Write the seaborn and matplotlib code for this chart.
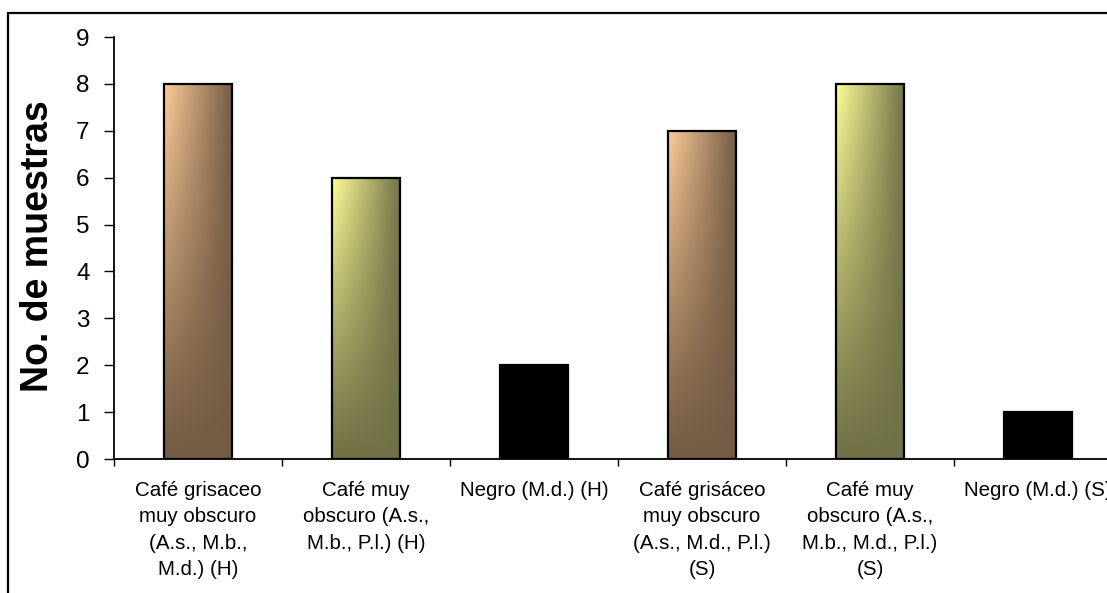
import numpy as np
import pandas as pd
import matplotlib
matplotlib.use("Agg")
import matplotlib.pyplot as plt
from matplotlib.colors import to_rgb
from matplotlib.patches import Rectangle
import seaborn as sns

# Soil colour classes and number of samples in each
categories = [
    "Café grisaceo\nmuy obscuro\n(A.s., M.b.,\nM.d.) (H)",
    "Café muy\nobscuro (A.s.,\nM.b., P.l.) (H)",
    "Negro (M.d.) (H)",
    "Café grisáceo\nmuy obscuro\n(A.s., M.d., P.l.)\n(S)",
    "Café muy\nobscuro (A.s.,\nM.b., M.d., P.l.)\n(S)",
    "Negro (M.d.) (S)",
]
muestras = [8, 6, 2, 7, 8, 1]
# fill style per class: light/dark ends of the gradient (None = solid black)
fills = [
    ("#FFCC99", "#735B44"),
    ("#FFFF99", "#717147"),
    None,
    ("#FFCC99", "#735B44"),
    ("#FFFF99", "#717147"),
    None,
]
y_ticks = list(range(0, 10))

sns.set_theme(style="white")
plt.rcParams["font.family"] = ["Liberation Sans", "DejaVu Sans"]
plt.rcParams["text.color"] = "black"
plt.rcParams["axes.labelcolor"] = "black"
plt.rcParams["xtick.color"] = "black"
plt.rcParams["ytick.color"] = "black"

W, H = 1107, 593
fig = plt.figure(figsize=(W / 100, H / 100), dpi=100)
ax = fig.add_axes([114 / W, (H - 459) / H, (1122 - 114) / W, (459 - 37) / H])

df = pd.DataFrame({"cat": categories, "n": muestras})
sns.barplot(data=df, x="cat", y="n", order=categories, width=0.41,
            color="black", edgecolor="black", linewidth=1.6, ax=ax,
            saturation=1, zorder=3)

ax.set_xlim(-0.5, len(categories) - 0.5)
ax.set_ylim(0, 9)

# gradient fills clipped to each bar
nx, ny = 160, 200
gx = np.linspace(0, 1, nx)[None, :]
gy = np.linspace(0, 1, ny)[:, None]
t = 1 - (1 - gx) * (1 - gy) ** 1.1
t = np.clip(t, 0, 1)
for patch, fill in zip(ax.patches, fills):
    if fill is None:
        continue
    c0 = np.array(to_rgb(fill[0]))
    c1 = np.array(to_rgb(fill[1]))
    img = c0[None, None, :] * (1 - t[..., None]) + c1[None, None, :] * t[..., None]
    x0, y0 = patch.get_x(), patch.get_y()
    w, h = patch.get_width(), patch.get_height()
    ax.imshow(img, extent=(x0, x0 + w, y0, y0 + h), origin="upper",
              aspect="auto", zorder=2, interpolation="bilinear")
    patch.set_facecolor("none")

ax.set_xlim(-0.5, len(categories) - 0.5)
ax.set_ylim(0, 9)
ax.set_aspect("auto")

# y axis
ax.set_yticks(y_ticks)
ax.set_yticklabels([str(v) for v in y_ticks], fontsize=17.5)
ax.tick_params(axis="y", which="major", direction="out", length=7.5,
               width=1.0, color="black", labelcolor="black", left=True, pad=10)
ax.set_ylabel("No. de muestras", fontsize=27, fontweight="bold",
              color="black")
ax.yaxis.set_label_coords(-0.058, 0.505)

# x axis: ticks at class boundaries, labels at class centres
ax.set_xticks(np.arange(-0.5, len(categories), 1.0))
ax.set_xticklabels([""] * (len(categories) + 1))
ax.set_xticks(np.arange(len(categories)), minor=True)
ax.set_xticklabels(categories, minor=True, fontsize=14.8, linespacing=1.48,
                   color="black")
ax.tick_params(axis="x", which="major", direction="out", length=5,
               width=1.0, color="black", bottom=True)
ax.tick_params(axis="x", which="minor", length=0, pad=16)
ax.set_xlabel("")

for side in ("top", "right"):
    ax.spines[side].set_visible(False)
for side in ("left", "bottom"):
    ax.spines[side].set_color("black")
    ax.spines[side].set_linewidth(1.3)
ax.grid(False)

# outer chart frame
fig.patches.append(Rectangle((8 / W, -0.2), 1.5, (H - 13) / H + 0.2,
                             transform=fig.transFigure, fill=False,
                             edgecolor="black", linewidth=1.6, zorder=0))

fig.savefig("out.png", dpi=100)
